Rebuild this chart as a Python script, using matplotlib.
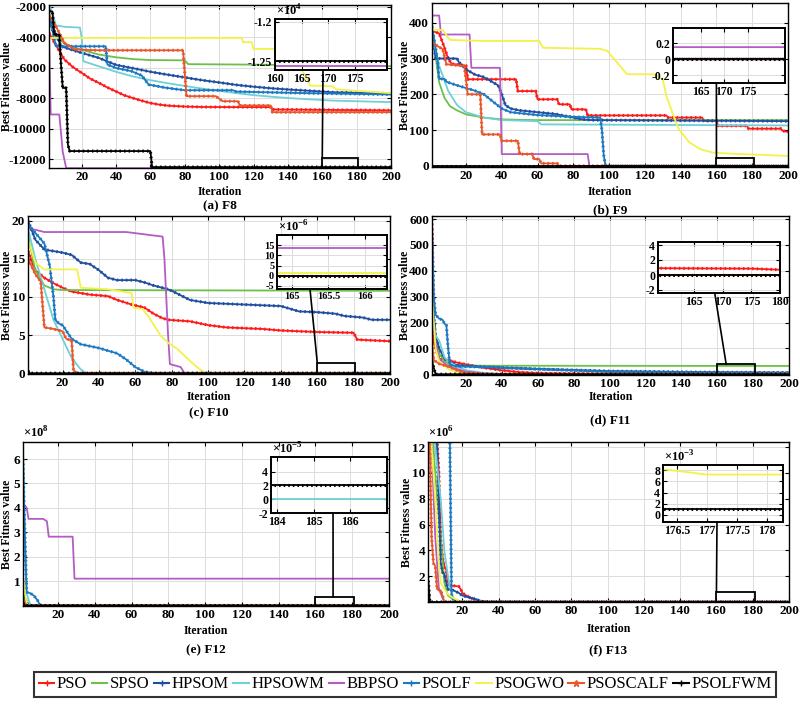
import matplotlib
matplotlib.use("Agg")
import matplotlib.pyplot as plt
from matplotlib.lines import Line2D
from matplotlib.patches import Rectangle, ConnectionPatch
from matplotlib.ticker import FuncFormatter

plt.rcParams['font.family'] = ['Liberation Serif', 'DejaVu Serif']
plt.rcParams['font.weight'] = 'bold'
plt.rcParams['axes.unicode_minus'] = False
plt.rcParams['mathtext.fontset'] = 'custom'
plt.rcParams['mathtext.rm'] = 'Liberation Serif'

algos = ["PSO", "SPSO", "HPSOM", "HPSOWM", "BBPSO", "PSOLF", "PSOGWO", "PSOSCALF", "PSOLFWM"]
colors = ["#ff1a1a", "#6cc04a", "#1f4e9e", "#6fd0d8", "#b35cc4", "#1c78c0", "#f2f24a", "#e8572c", "#000000"]
markers = ["+", None, "+", None, None, "+", None, "*", "+"]

# convergence curves, (iteration, best fitness)
f8 = {
    "PSO": [(1, -3700), (5, -4500), (10, -5450), (15, -5950), (20, -6320), (25, -6700), (30, -6980), (35, -7280),
            (40, -7540), (45, -7800), (50, -7980), (55, -8150), (60, -8300), (65, -8400), (70, -8470), (80, -8530),
            (90, -8560), (130, -8570), (131, -8720), (200, -8780)],
    "SPSO": [(1, -3050), (5, -3900), (10, -4400), (15, -4650), (20, -4800), (30, -5120), (40, -5300), (50, -5420),
             (60, -5480), (80, -5500), (82, -5750), (120, -5780), (200, -5880)],
    "HPSOM": [(1, -2700), (5, -3800), (8, -4580), (14, -4800), (20, -5010), (30, -5340), (40, -5800), (50, -6020),
              (60, -6250), (70, -6440), (80, -6620), (90, -6800), (100, -6950), (110, -7110), (120, -7230),
              (130, -7330), (140, -7410), (150, -7480), (166, -7590), (200, -7680)],
    "HPSOWM": [(1, -1750), (3, -2400), (5, -3200), (10, -3300), (19, -3350), (20, -4000), (21, -5560), (30, -5890),
               (40, -6250), (50, -6560), (60, -6800), (70, -7000), (80, -7180), (90, -7350), (100, -7500),
               (110, -7650), (120, -7780), (130, -7880), (140, -7970), (150, -8040), (166, -8140), (200, -8240)],
    "BBPSO": [(1, -3700), (2, -9050), (7, -9050), (9, -11500), (11, -12569), (200, -12569)],
    "PSOLF": [(1, -2600), (3, -3500), (5, -4580), (34, -4580), (35, -5780), (40, -6000), (49, -6210), (55, -6500),
              (59, -7090), (69, -7300), (80, -7460), (108, -7460), (110, -7550), (150, -7650), (200, -7740)],
    "PSOGWO": [(1, -4030), (113, -4030), (114, -4310), (119, -4310), (120, -4750), (132, -4750), (140, -5200),
               (146, -5800), (150, -6500), (153, -7150), (166, -7200), (168, -7400), (180, -7500), (200, -7650)],
    "PSOSCALF": [(1, -2500), (5, -3270), (10, -4360), (16, -4790), (30, -4840), (79, -4840), (81, -7850),
                 (98, -7850), (102, -8180), (111, -8180), (112, -8460), (130, -8460), (131, -8900), (200, -8900)],
    "PSOLFWM": [(1, -2280), (3, -2300), (4, -3800), (7, -3810), (8, -5780), (9, -7310), (11, -7310), (12, -11020),
                (13, -11450), (60, -11450), (61, -12500), (200, -12500)],
}

f9 = {
    "PSO": [(1, 377), (5, 370), (8, 330), (10, 300), (12, 285), (20, 280), (21, 242), (48, 242), (49, 209), (59, 209),
            (60, 186), (71, 186), (72, 172), (78, 172), (79, 158), (87, 158), (88, 141), (132, 141), (133, 135),
            (152, 135), (153, 126), (160, 126), (161, 112), (177, 112), (178, 104), (196, 104), (197, 98), (200, 95)],
    "SPSO": [(1, 380), (5, 233), (8, 190), (11, 167), (15, 155), (20, 144), (30, 135), (40, 130), (58, 128), (200, 128)],
    "HPSOM": [(1, 380), (3, 300), (15, 300), (16, 290), (20, 270), (25, 255), (30, 248), (38, 225), (40, 200),
              (42, 170), (45, 160), (50, 155), (60, 150), (70, 145), (80, 135), (85, 130), (90, 128), (200, 125)],
    "HPSOWM": [(1, 370), (5, 280), (10, 210), (15, 170), (20, 150), (30, 135), (40, 128), (60, 125), (62, 116),
               (200, 113)],
    "BBPSO": [(1, 420), (5, 420), (6, 367), (22, 367), (23, 274), (39, 274), (40, 33), (88, 33), (89, 0.15),
              (200, 0.15)],
    "PSOLF": [(1, 390), (4, 300), (5, 243), (8, 243), (9, 235), (15, 225), (25, 210), (30, 200), (35, 180),
              (40, 160), (45, 150), (60, 142), (80, 137), (95, 135), (96, 100), (97, 30), (98, 0), (200, 0)],
    "PSOGWO": [(1, 380), (7, 380), (11, 352), (30, 349), (61, 349), (63, 330), (95, 327), (99, 321), (110, 256),
               (125, 256), (130, 242), (132, 195), (136, 140), (139, 102), (145, 65), (151, 47), (158, 37),
               (169, 34), (200, 28)],
    "PSOSCALF": [(1, 344), (7, 326), (9, 284), (19, 279), (20, 242), (21, 200), (28, 200), (29, 88), (39, 88),
                 (40, 70), (49, 70), (50, 33), (57, 33), (58, 19), (61, 19), (62, 7), (71, 7), (72, 0), (200, 0)],
    "PSOLFWM": [(1, 0), (200, 0)],
}

f10 = {
    "PSO": [(1, 16), (5, 13.5), (10, 12.5), (15, 11.8), (20, 11.2), (25, 10.7), (35, 10.3), (45, 10.1), (50, 9.6),
            (58, 9.0), (65, 8.6), (70, 7.8), (75, 7.2), (78, 7.0), (90, 6.8), (100, 6.3), (110, 6.0), (130, 5.8),
            (140, 5.6), (160, 5.4), (180, 5.3), (182, 4.4), (200, 4.2)],
    "SPSO": [(1, 18), (5, 13.5), (10, 11.5), (15, 11.0), (20, 10.9), (200, 10.8)],
    "HPSOM": [(1, 20), (5, 17.5), (10, 16.2), (20, 15.8), (25, 15.5), (30, 14.5), (35, 14.3), (40, 13.5),
              (45, 12.5), (50, 12.2), (60, 12.2), (65, 11.9), (70, 11.5), (78, 11), (80, 10.8), (90, 9.6),
              (95, 9.4), (100, 9.2), (120, 9.0), (140, 8.8), (150, 8.1), (160, 8.0), (170, 7.8), (175, 7.5),
              (185, 7.3), (190, 7.0), (200, 7.0)],
    "HPSOWM": [(1, 19), (5, 15), (10, 11), (15, 7), (20, 4.5), (25, 2), (30, 0.5), (33, 0), (200, 0)],
    "BBPSO": [(1, 19), (5, 18.8), (10, 18.5), (55, 18.5), (65, 18.2), (75, 17.9), (76, 15), (77, 10), (78, 5),
              (79, 1.2), (85, 0.8), (87, 13.5e-6), (200, 13.5e-6)],
    "PSOLF": [(1, 19.5), (10, 17), (13, 14), (15, 10), (16, 7), (18, 6.5), (20, 6.3), (25, 4.5), (30, 3.8),
              (40, 3.3), (50, 2.6), (55, 1.8), (60, 0.8), (65, 0.2), (70, 0), (200, 0)],
    "PSOGWO": [(1, 17.5), (5, 14.5), (10, 13.6), (28, 13.6), (30, 11.2), (45, 11.0), (58, 10.5), (59, 8.6),
               (64, 8.4), (67, 7.5), (71, 6.0), (74, 4.9), (78, 4.0), (83, 3.2), (87, 2.3), (91, 1.4), (95, 0.6),
               (98, 0.1), (100, 1.5e-6), (200, 1.5e-6)],
    "PSOSCALF": [(1, 15), (5, 13), (8, 12), (10, 6), (15, 5.8), (20, 5.5), (22, 4.5), (25, 4.3), (26, 0.5),
                 (27, 0.2), (28, 0), (200, 0)],
    "PSOLFWM": [(1, 0.3), (2, 0), (200, 0)],
}

f11 = {
    "PSO": [(1, 600), (2, 120), (5, 60), (10, 55), (15, 45), (20, 38), (25, 32), (30, 25), (40, 15), (50, 8),
            (60, 4), (80, 2), (100, 1.2), (160, 0.9), (175, 0.85), (180, 0.7), (200, 0.6)],
    "SPSO": [(1, 300), (3, 150), (5, 80), (8, 50), (10, 40), (15, 35), (20, 33), (200, 32)],
    "HPSOM": [(1, 300), (3, 150), (5, 100), (8, 60), (10, 50), (15, 35), (30, 28), (60, 20), (100, 12), (150, 8),
              (200, 6)],
    "HPSOWM": [(1, 230), (3, 150), (5, 130), (8, 65), (10, 50), (15, 30), (20, 15), (30, 5), (40, 0), (200, 0)],
    "BBPSO": [(1, 250), (3, 120), (5, 60), (10, 30), (20, 10), (30, 3), (40, 0), (200, 0)],
    "PSOLF": [(1, 560), (2, 300), (3, 230), (5, 215), (7, 210), (8, 195), (9, 190), (10, 100), (11, 35), (15, 30),
              (30, 28), (60, 20), (100, 10), (150, 6), (200, 5)],
    "PSOGWO": [(1, 300), (3, 100), (5, 50), (10, 20), (15, 5), (20, 0), (200, 0)],
    "PSOSCALF": [(1, 120), (2, 55), (5, 40), (10, 30), (15, 15), (20, 5), (30, 0), (200, 0)],
    "PSOLFWM": [(1, 50), (3, 0), (200, 0)],
}

f12 = {
    "PSO": [(1, 5e7), (3, 5e6), (5, 1e3), (200, 0.5)],
    "SPSO": [(1, 3e7), (3, 2e6), (5, 1e3), (200, 0.02)],
    "HPSOM": [(1, 6e7), (3, 1e7), (6, 1e3), (200, 0.1)],
    "HPSOWM": [(1, 6.8e8), (2, 2e8), (3, 5e7), (5, 0), (200, 0)],
    "BBPSO": [(1, 4.1e8), (2, 4.1e8), (3, 4.0e8), (4, 3.55e8), (12, 3.55e8), (14, 3.45e8), (15, 2.82e8),
              (28, 2.82e8), (29, 1.1e8), (200, 1.1e8)],
    "PSOLF": [(1, 6e8), (2, 3e8), (3, 5.5e7), (5, 5e7), (7, 4e7), (9, 2e7), (10, 5e6), (11, 1e3), (200, 0.003)],
    "PSOGWO": [(1, 1.3e8), (2, 5e7), (3, 1e7), (4, 1e3), (200, 0.05)],
    "PSOSCALF": [(1, 2e7), (3, 1e3), (200, 0.001)],
    "PSOLFWM": [(1, 1e7), (2, 2e-5), (200, 2e-5)],
}

f13 = {
    "PSO": [(1, 3e7), (6, 1.25e7), (7, 1.0e7), (8, 5e6), (9, 3.5e6), (10, 2.8e6), (11, 2.5e6), (12, 1.5e6),
            (13, 1.3e6), (18, 1.2e6), (19, 1.0e6), (20, 7e5), (22, 5e5), (25, 3e5), (28, 1e5), (32, 1e4),
            (200, 0.3)],
    "SPSO": [(1, 3e7), (4, 1.2e7), (6, 8e6), (8, 5e6), (10, 1.5e6), (12, 5e5), (15, 2e5), (20, 1e3), (200, 0.05)],
    "HPSOM": [(1, 3e7), (6, 1.2e7), (8, 3e6), (9, 2.3e6), (10, 2.2e6), (11, 1.5e6), (12, 1.0e6), (15, 9e5),
              (18, 7e5), (20, 5e5), (25, 3e5), (28, 2e5), (30, 5e4), (35, 1e3), (200, 0.2)],
    "HPSOWM": [(1, 3e7), (5, 1.2e7), (8, 8e6), (10, 4e6), (12, 2e6), (13, 1.2e6), (15, 3e5), (17, 1e3), (200, 0)],
    "BBPSO": [(1, 3e7), (3, 1.2e7), (5, 5e6), (7, 1e6), (10, 1e3), (200, 0.5)],
    "PSOLF": [(1, 3e7), (13, 1.3e7), (14, 5e5), (15, 2e5), (18, 1e4), (200, 0.02)],
    "PSOGWO": [(1, 3e7), (3, 1.2e7), (5, 8e6), (7, 3e6), (8, 1.5e6), (10, 1.0e6), (12, 6e5), (15, 3e5),
               (18, 1e5), (20, 1e4), (40, 1e3), (176, 8.5e-3), (177, 7.2e-3), (200, 7.2e-3)],
    "PSOSCALF": [(1, 3e7), (2, 1.2e7), (3, 5e6), (4, 3e6), (5, 2.8e6), (6, 1e6), (8, 9e5), (9, 5e5), (10, 1e3),
                 (200, 0.1)],
    "PSOLFWM": [(1, 2e6), (2, 1e-3), (200, 1e-3)],
}

W, H = 800, 707


def box(l, t, r, b):
    return [l / W, 1 - b / H, (r - l) / W, (b - t) / H]


def fx(x):
    return x / W


def fy(y):
    return 1 - y / H


fmt = FuncFormatter(lambda v, p: "{:g}".format(v))


def style(ax, lw, fs):
    ax.tick_params(direction="in", top=True, right=True, labelsize=fs, length=3, width=0.8, pad=2)
    ax.grid(True, color="#dcdcdc", lw=0.7)
    ax.set_axisbelow(True)
    ax.xaxis.set_major_formatter(fmt)
    ax.yaxis.set_major_formatter(fmt)
    for s in ax.spines.values():
        s.set_linewidth(lw)


def draw(ax, data, scale):
    for name, c, m in zip(algos, colors, markers):
        xs = [p[0] for p in data[name]]
        ys = [p[1] / scale for p in data[name]]
        ax.plot(xs, ys, color=c, lw=1.3, zorder=2)
        if m is not None:
            ax.plot(xs, ys, color=c, lw=2.2, ls=(0, (0.5, 1.0)), zorder=2)


panels = [
    dict(data=f8, scale=1, pos=(49, 5, 391, 168), ylim=(-12560, -1870), yt=list(range(-12000, -1999, 2000)),
         ipos=(275, 19, 387, 70), iscale=1e4, ixlim=(160, 181), iylim=(-1.2615, -1.1962),
         ixt=[160, 165, 170, 175], iyt=[-1.25, -1.2], imult="$\\times10^{4}$", ifs=8.5,
         rect=(160, -12560, 181, -11880), cmain=(160, -11880), cins=(169, -1.2615),
         title="(a) F8", ylx=7, xly=192, tly=206, mult=None),
    dict(data=f9, scale=1, pos=(432, 3, 788, 167), ylim=(-3, 455), yt=[0, 100, 200, 300, 400],
         ipos=(673, 28, 785, 83), iscale=1, ixlim=(159, 183), iylim=(-0.3, 0.39),
         ixt=[165, 170, 175], iyt=[-0.2, 0, 0.2], imult=None, ifs=8.5,
         rect=(160, -3, 181, 22), cmain=(160, 22), cins=(168.3, -0.3),
         title="(b) F9", ylx=405, xly=192, tly=210, mult=None),
    dict(data=f10, scale=1, pos=(28, 216, 390, 374), ylim=(-0.1, 20.6), yt=[0, 5, 10, 15, 20],
         ipos=(277, 235, 387, 289), iscale=1e-6, ixlim=(164.8, 166.3), iylim=(-6.5, 20),
         ixt=[165, 165.5, 166], iyt=[-5, 0, 5, 10, 15], imult="$\\times10^{-6}$", ifs=7.5,
         rect=(160, -0.1, 181, 1.4), cmain=(160, 1.4), cins=(165.25, -6.5),
         title="(c) F10", ylx=7, xly=397, tly=413, mult=None),
    dict(data=f11, scale=1, pos=(432, 216, 789, 375), ylim=(-3, 612), yt=[0, 100, 200, 300, 400, 500, 600],
         ipos=(658, 242, 780, 293), iscale=1, ixlim=(158.7, 180), iylim=(-2.4, 4.4),
         ixt=[165, 170, 175, 180], iyt=[-2, 0, 2, 4], imult=None, ifs=8.5,
         rect=(160, -3, 181, 38), cmain=(165, 38), cins=(168.6, -2.4),
         title="(d) F11", ylx=405, xly=397, tly=420, mult=None),
    dict(data=f12, scale=1e8, pos=(23, 442, 389, 606), ylim=(-0.02, 6.7), yt=[1, 2, 3, 4, 5, 6],
         ipos=(271, 457, 387, 513), iscale=1e-5, ixlim=(183.84, 187), iylim=(-2, 6.1),
         ixt=[184, 185, 186], iyt=[-2, 0, 2, 4], imult="$\\times10^{-5}$", ifs=8.5,
         rect=(160, -0.02, 181, 0.35), cmain=(169.6, 0.35), cins=(185.53, -2),
         title="(e) F12", ylx=7, xly=631, tly=650, mult="$\\times10^{8}$"),
    dict(data=f13, scale=1e6, pos=(428, 442, 789, 602), ylim=(0, 12.4), yt=[2, 4, 6, 8, 10, 12],
         ipos=(663, 465, 783, 522), iscale=1e-3, ixlim=(176.27, 178.27), iylim=(-1.25, 8.9),
         ixt=[176.5, 177, 177.5, 178], iyt=[0, 2, 4, 6, 8], imult="$\\times10^{-3}$", ifs=8.5,
         rect=(160, 0, 181, 0.8), cmain=(160, 0.8), cins=(177.17, -1.25),
         title="(f) F13", ylx=407, xly=629, tly=650, mult="$\\times10^{6}$"),
]

fig = plt.figure(figsize=(8, 7.07), dpi=100)

for p in panels:
    l, t, r, b = p["pos"]
    ax = fig.add_axes(box(l, t, r, b))
    draw(ax, p["data"], p["scale"])
    ax.set_xlim(1, 200)
    ax.set_ylim(*p["ylim"])
    ax.set_xticks(list(range(20, 201, 20)))
    ax.set_yticks(p["yt"])
    style(ax, 1.0, 9.5)
    x0, y0, x1, y1 = p["rect"]
    ax.add_patch(Rectangle((x0, y0), x1 - x0, y1 - y0, fill=False, ec="k", lw=1.3, zorder=4, clip_on=False))

    fig.text(fx(p["ylx"]), fy((t + b) / 2), "Best Fitness value", rotation=90, ha="center", va="center",
             fontsize=8.5)
    fig.text(fx((l + r) / 2), fy(p["xly"]), "Iteration", ha="center", va="center", fontsize=8.5)
    fig.text(fx((l + r) / 2), fy(p["tly"]), p["title"], ha="center", va="center", fontsize=9.5)
    if p["mult"]:
        fig.text(fx(l), fy(t - 1), p["mult"], ha="left", va="bottom", fontsize=9)

    il, it, ir, ib = p["ipos"]
    axi = fig.add_axes(box(il, it, ir, ib), zorder=5)
    axi.set_facecolor("white")
    draw(axi, p["data"], p["iscale"])
    axi.set_xlim(*p["ixlim"])
    axi.set_ylim(*p["iylim"])
    axi.set_xticks(p["ixt"])
    axi.set_yticks(p["iyt"])
    style(axi, 1.4, p["ifs"])
    if p["imult"]:
        fig.text(fx(il + 1), fy(it - 0.5), p["imult"], ha="left", va="bottom", fontsize=9, zorder=6)

    con = ConnectionPatch(xyA=p["cins"], coordsA=axi.transData, xyB=p["cmain"], coordsB=ax.transData,
                          color="k", lw=1.2, zorder=6)
    fig.add_artist(con)

handles = [Line2D([], [], color=c, lw=1.5, marker=m, markersize=5) for c, m in zip(colors, markers)]
leg = fig.legend(handles, algos, loc="center", bbox_to_anchor=(fx(405), fy(684.5)), ncol=9,
                 prop={"family": "Liberation Serif", "size": 12, "weight": "normal"}, frameon=True,
                 fancybox=False, edgecolor="black", handlelength=0.95, handletextpad=0.15,
                 columnspacing=0.25, borderpad=0.25, borderaxespad=0)
leg.get_frame().set_linewidth(1.5)

fig.savefig("out.png", dpi=100)
